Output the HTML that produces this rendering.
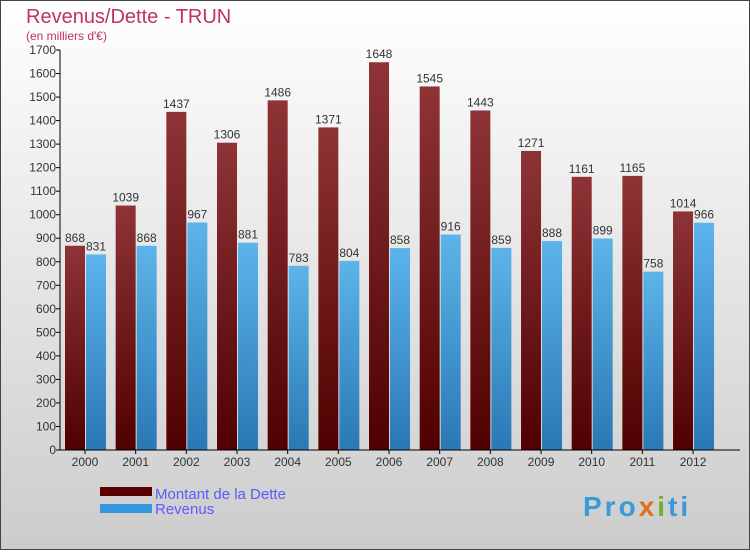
<!DOCTYPE html>
<html><head><meta charset="utf-8"><style>
body{margin:0;width:750px;height:550px;overflow:hidden;font-family:"Liberation Sans",sans-serif}
</style></head><body>
<svg id="c" width="750" height="550" xmlns="http://www.w3.org/2000/svg">
<defs>
<linearGradient id="bg" x1="0" y1="0" x2="0" y2="1"><stop offset="0" stop-color="#ffffff"/><stop offset="1" stop-color="#cccccc"/></linearGradient>
<linearGradient id="gd" x1="0" y1="0" x2="0" y2="1"><stop offset="0" stop-color="#8e3436"/><stop offset="1" stop-color="#500000"/></linearGradient>
<linearGradient id="gr" x1="0" y1="0" x2="0" y2="1"><stop offset="0" stop-color="#5cb4ea"/><stop offset="1" stop-color="#2a78b4"/></linearGradient>
</defs>
<rect x="0.5" y="0.5" width="749" height="549" fill="url(#bg)" stroke="#444"/>
<text x="26" y="23" font-size="20" fill="#c0306a">Revenus/Dette - TRUN</text>
<text x="26" y="40" font-size="12" fill="#c0306a">(en milliers d'€)</text>
<g id="plot"></g>
<rect x="100" y="487" width="52" height="9" fill="#5a0000"/>
<text x="155" y="499" font-size="15" fill="#5a5aff">Montant de la Dette</text>
<rect x="100" y="504" width="52" height="9" fill="#3498e0"/>
<text x="155" y="514" font-size="15" fill="#5a5aff">Revenus</text>
<text x="583" y="516" font-size="28" font-weight="bold" letter-spacing="3" fill="#3a9ad8">Pro<tspan fill="#e07020">x</tspan><tspan fill="#70b030">i</tspan>ti</text>
</svg>
<script>
const years=["2000","2001","2002","2003","2004","2005","2006","2007","2008","2009","2010","2011","2012"];
const dette=[868,1039,1437,1306,1486,1371,1648,1545,1443,1271,1161,1165,1014];
const revenus=[831,868,967,881,783,804,858,916,859,888,899,758,966];
const ticks=[0,100,200,300,400,500,600,700,800,900,1000,1100,1200,1300,1400,1500,1600,1700];
const NS="http://www.w3.org/2000/svg",g=document.getElementById('plot');
const y0=450,ymax=1700,h=400;
const y=v=>y0-v/ymax*h;
const x=i=>85+i*50.67;
function mk(t,a){const e=document.createElementNS(NS,t);for(const k in a)e.setAttribute(k,a[k]);g.appendChild(e);return e;}
ticks.forEach(t=>{
 const l=mk('line',{x1:56,x2:60,y1:y(t),y2:y(t),stroke:'#000'});
 
 
 const tx=mk('text',{x:56,y:y(t)+4,'font-size':12,'text-anchor':'end',fill:'#333'});tx.textContent=t;
 
 
});
years.forEach((yr,i)=>{
 const c=x(i);
 const b1=mk('rect',{x:c-20,y:y(dette[i]),width:20,height:y0-y(dette[i]),fill:'url(#gd)'});
 
 
 const b2=mk('rect',{x:c+1,y:y(revenus[i]),width:20,height:y0-y(revenus[i]),fill:'url(#gr)'});
 
 
 const t1=mk('text',{x:c-10,y:y(dette[i])-4,'font-size':12,'text-anchor':'middle',fill:'#333'});t1.textContent=dette[i];
 
 
 const t2=mk('text',{x:c+11,y:y(revenus[i])-4,'font-size':12,'text-anchor':'middle',fill:'#333'});t2.textContent=revenus[i];
 
 
 const tk=mk('line',{x1:c,x2:c,y1:450,y2:454,stroke:'#000'});
 
 
 const xl=mk('text',{x:c,y:466,'font-size':12,'text-anchor':'middle',fill:'#333'});xl.textContent=yr;
 
 
});
const ya=mk('line',{x1:60,x2:60,y1:50,y2:450,stroke:'#000'});


const xa=mk('line',{x1:60,x2:740,y1:450,y2:450,stroke:'#000'});


</script>
</body></html>
